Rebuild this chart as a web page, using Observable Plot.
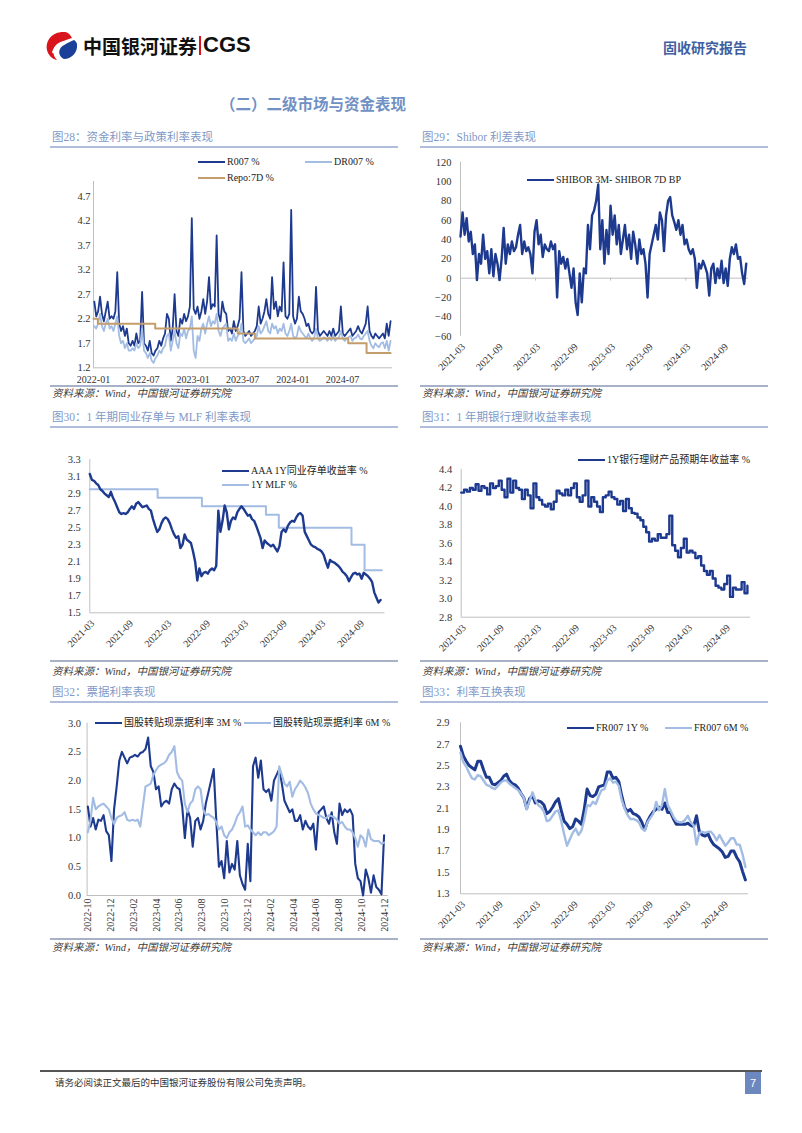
<!DOCTYPE html>
<html><head><meta charset="utf-8">
<script src="https://cdn.jsdelivr.net/npm/d3@7"></script>
<script src="https://cdn.jsdelivr.net/npm/@observablehq/plot@0.6"></script>
<style>
html,body{margin:0;padding:0;background:#fff;}
#page{position:relative;width:802px;height:1133px;overflow:hidden;font-family:"Liberation Serif","Noto Sans CJK SC",serif;}
.t{position:absolute;white-space:nowrap;transform:translateY(-50%);line-height:1;}
.ttl{font-size:11.5px;color:#7f99c6;}
.src{font-size:10.5px;color:#404040;font-style:italic;}
.bar{position:absolute;}
.leg{position:absolute;font-size:10px;color:#222;white-space:nowrap;display:flex;align-items:center;transform:translateY(-50%);line-height:1;}
.leg i{display:inline-block;width:27px;height:0;border-top:2.6px solid;margin-right:2px;}
.ch{position:absolute;}
</style></head>
<body><div id="page"></div>
<script>
// ---------------- DATA ----------------
// 图28 (weekly from 2022-01-04)
const r007Start = "2022-01-04", r007Step = 7;
const r007 = [2.55,2.25,2.35,2.65,2.30,2.15,2.35,2.55,2.20,2.25,
 2.20,2.35,3.15,2.10,1.95,2.05,1.85,2.00,1.70,1.65,
 1.75,1.65,1.90,1.70,1.75,2.75,1.70,1.65,1.55,1.75,
 1.50,1.45,1.55,1.60,1.75,1.65,1.80,1.90,2.30,2.20,
 1.75,2.00,2.70,1.95,1.85,2.20,2.10,2.30,2.15,2.25,
 2.45,4.25,2.40,2.30,2.45,2.20,2.35,2.60,2.30,2.55,
 3.05,2.40,2.50,2.45,3.90,2.30,2.15,2.55,2.35,2.30,
 1.95,2.00,1.90,2.15,1.95,2.05,2.20,3.15,1.95,1.85,
 1.90,1.95,1.85,1.90,1.95,2.05,2.45,2.10,2.20,2.35,
 2.60,2.30,2.20,3.05,2.40,2.55,2.25,2.45,2.35,3.35,
 2.25,2.20,2.30,4.42,2.25,2.10,2.20,2.65,2.35,2.30,
 2.20,2.05,2.10,1.95,1.90,1.95,2.85,1.95,1.85,1.90,
 1.95,1.90,1.85,1.95,1.85,2.00,1.85,1.90,1.95,2.45,
 1.90,1.85,1.90,1.95,2.00,1.85,1.90,1.95,2.05,1.95,
 1.90,2.00,2.10,2.45,1.95,1.85,1.80,1.90,1.85,1.80,
 1.85,1.90,1.80,2.10,1.85,2.15];
const dr007 = [2.05,2.00,2.10,2.30,2.05,1.95,2.10,2.20,2.00,2.05,
 1.95,2.10,2.25,1.85,1.70,1.75,1.60,1.70,1.55,1.55,
 1.60,1.55,1.70,1.60,1.65,2.00,1.55,1.50,1.40,1.50,
 1.35,1.30,1.40,1.45,1.55,1.50,1.60,1.65,1.85,1.90,
 1.55,1.75,1.95,1.70,1.60,1.90,1.85,2.00,1.80,1.95,
 2.00,2.25,1.55,1.40,1.85,1.75,2.00,2.10,1.90,2.10,
 2.25,2.05,2.15,2.10,2.30,1.95,1.85,2.00,2.05,2.10,
 1.75,1.80,1.75,1.90,1.75,1.85,1.90,2.10,1.75,1.70,
 1.75,1.80,1.70,1.75,1.80,1.85,2.05,1.90,1.95,2.05,
 2.15,1.95,1.90,2.10,2.00,2.05,1.90,2.00,1.95,2.10,
 1.90,1.85,1.95,2.10,1.85,1.80,1.85,2.05,1.95,1.90,
 1.85,1.80,1.90,1.80,1.75,1.80,2.00,1.80,1.75,1.78,
 1.82,1.80,1.75,1.82,1.76,1.85,1.75,1.80,1.82,1.95,
 1.80,1.75,1.80,1.82,1.85,1.75,1.80,1.82,1.88,1.80,
 1.78,1.85,1.90,1.95,1.75,1.65,1.60,1.70,1.65,1.62,
 1.70,1.72,1.60,1.75,1.55,1.75];
const repoDates = ["2022-01-01","2022-01-17","2022-08-15","2023-06-13","2023-08-15","2024-07-22","2024-09-27","2024-12-24"];
const repoValues = [2.2,2.1,2.0,1.9,1.8,1.7,1.5,1.5];
const ticks28 = ["2022-01","2022-07","2023-01","2023-07","2024-01","2024-07"];
const yTicks28 = [1.2,1.7,2.2,2.7,3.2,3.7,4.2,4.7];

// 图29 (every 10 days from 2021-03-01)
const shiborStart = "2021-03-01", shiborStep = 10;
const shiborSpread = [43,68,45,62,38,48,25,35,-2,25,
 15,45,20,28,5,30,2,25,15,-2,
 20,52,15,35,25,38,28,32,45,55,
 25,38,28,32,25,5,48,60,35,45,
 22,35,30,28,38,30,35,-20,28,15,
 22,10,20,5,-10,10,-25,-38,5,-25,
 10,5,55,30,65,70,80,97,30,60,
 15,50,25,75,45,65,35,55,25,40,
 55,30,45,20,48,35,15,40,25,30,
 15,-20,25,35,45,55,40,68,60,28,
 65,80,84,65,58,50,60,45,55,35,
 40,30,25,30,20,-10,15,10,18,12,
 5,-18,10,15,-5,10,0,18,-5,10,
 -8,20,32,25,35,20,22,5,-6,15];
const ticksHalfYear = ["2021-03","2021-09","2022-03","2022-09","2023-03","2023-09","2024-03","2024-09"];
const yTicks29 = [-60,-40,-20,0,20,40,60,80,100,120];

// 图30 (every 10 days from 2021-03-01)
const ncdStart = "2021-03-01", ncdStep = 10;
const ncdAAA = [3.13,3.06,3.05,3.02,3.00,2.95,2.93,2.90,2.88,2.86,
 2.92,2.85,2.80,2.74,2.68,2.66,2.67,2.66,2.68,2.72,
 2.75,2.72,2.78,2.80,2.77,2.74,2.75,2.76,2.72,2.70,
 2.60,2.52,2.45,2.48,2.55,2.60,2.62,2.60,2.55,2.48,
 2.42,2.38,2.40,2.26,2.30,2.42,2.36,2.34,2.32,2.22,
 2.10,1.88,2.02,1.93,1.97,1.98,1.96,2.00,2.02,2.00,
 2.05,2.70,2.45,2.58,2.76,2.68,2.48,2.58,2.62,2.60,
 2.68,2.72,2.75,2.72,2.68,2.64,2.65,2.60,2.58,2.52,
 2.45,2.38,2.26,2.35,2.32,2.30,2.28,2.30,2.26,2.22,
 2.28,2.45,2.48,2.45,2.52,2.56,2.58,2.57,2.62,2.66,
 2.67,2.64,2.45,2.40,2.35,2.30,2.28,2.27,2.25,2.24,
 2.22,2.18,2.10,2.03,2.12,2.10,2.09,2.07,2.05,2.02,
 1.98,1.96,1.93,1.87,1.92,1.96,1.97,1.95,1.96,1.90,
 1.97,1.95,1.93,1.90,1.86,1.74,1.68,1.62,1.65];
const mlfDates = ["2021-03-01","2022-01-17","2022-08-15","2023-06-15","2023-08-15","2024-07-25","2024-09-25","2024-12-16"];
const mlfValues = [2.95,2.85,2.75,2.65,2.50,2.30,2.00,2.00];
const yTicks30 = [1.5,1.7,1.9,2.1,2.3,2.5,2.7,2.9,3.1,3.3];

// 图31 (every 14 days from 2021-03-01)
const wmpStart = "2021-03-01", wmpStep = 14;
const wmp1y = [4.15,4.18,4.16,4.20,4.18,4.24,4.17,4.22,4.20,4.13,
 4.25,4.20,4.22,4.28,4.18,4.10,4.30,4.15,4.28,4.20,
 4.18,4.08,4.18,4.12,3.98,4.25,4.10,4.07,4.02,4.00,
 4.03,3.97,4.05,4.17,4.14,4.12,4.18,4.12,4.20,4.25,
 4.10,4.05,4.12,4.28,4.00,4.10,4.05,4.00,3.94,4.10,
 4.12,4.16,4.10,4.08,4.02,4.06,3.95,4.08,3.98,3.93,
 3.92,3.88,3.85,3.78,3.72,3.62,3.65,3.63,3.70,3.66,
 3.66,3.70,3.90,3.58,3.52,3.45,3.55,3.65,3.50,3.52,
 3.50,3.44,3.46,3.36,3.30,3.26,3.30,3.22,3.14,3.12,
 3.10,3.16,3.25,3.02,3.12,3.10,3.10,3.18,3.06,3.14];
const yTicks31 = [2.8,3.0,3.2,3.4,3.6,3.8,4.0,4.2,4.4];

// 图32 (weekly from 2022-09-30)
const billStart = "2022-09-30", billStep = 7;
const bill3m = [1.55,1.20,1.35,1.15,1.32,1.30,1.40,1.12,1.05,0.60,
 1.50,1.90,2.35,2.50,2.40,2.30,2.40,2.42,2.45,2.42,
 2.48,2.50,2.55,2.75,2.25,2.15,1.85,1.90,1.55,1.62,
 1.65,1.60,1.85,1.95,1.88,1.85,1.55,1.00,1.50,1.35,
 0.85,1.30,1.35,1.15,1.30,1.60,1.80,2.00,2.20,1.30,
 0.50,0.60,0.30,0.95,0.40,0.55,0.45,0.95,0.35,0.20,
 0.10,0.90,0.25,2.25,2.40,2.05,2.35,1.85,1.80,1.85,
 1.65,2.00,2.10,2.20,1.95,1.65,1.55,1.45,1.50,1.30,
 1.30,1.40,1.15,1.30,1.20,1.15,1.25,0.80,1.45,1.50,
 1.55,1.35,1.25,1.45,1.10,0.90,1.60,1.40,1.50,1.45,
 1.50,1.40,0.55,0.30,0.25,0.00,0.45,0.30,0.05,0.35,
 0.15,0.10,0.02,1.05];
const bill6m = [1.10,1.30,1.70,1.50,1.55,1.58,1.60,1.55,1.50,1.35,
 1.25,1.35,1.38,1.40,1.45,1.32,1.30,1.32,1.30,1.32,
 1.20,1.55,1.90,1.92,1.95,2.10,2.18,2.25,2.28,2.30,
 2.35,2.45,2.50,2.60,2.15,2.05,2.00,1.60,1.45,1.60,
 1.65,1.85,1.90,1.85,1.50,1.40,1.42,1.38,1.35,1.28,
 1.15,1.20,1.05,1.00,1.10,1.15,1.25,1.38,1.45,1.55,
 1.20,1.22,1.15,1.10,1.05,1.10,1.05,1.10,1.10,1.05,
 1.08,1.12,1.20,2.25,2.10,1.95,1.90,1.98,1.72,1.85,
 1.92,2.00,1.95,1.88,1.78,1.60,1.50,1.43,1.40,1.38,
 1.35,1.35,1.40,1.38,1.36,1.32,1.25,1.28,1.20,1.15,
 1.15,1.10,1.00,0.85,1.05,1.00,0.85,1.15,0.98,0.95,
 0.95,0.95,0.90,0.92];
const ticks32 = ["2022-10","2022-12","2023-02","2023-04","2023-06","2023-08","2023-10","2023-12","2024-02","2024-04","2024-06","2024-08","2024-10","2024-12"];
const yTicks32 = [0,0.5,1.0,1.5,2.0,2.5,3.0];

// 图33 (every 14 days from 2021-03-01)
const irsStart = "2021-03-01", irsStep = 14;
const fr007_1y = [2.68,2.59,2.54,2.50,2.48,2.46,2.54,2.54,2.46,2.39,
 2.39,2.33,2.32,2.34,2.36,2.40,2.42,2.36,2.33,2.32,
 2.29,2.24,2.20,2.10,2.19,2.22,2.15,2.17,2.16,2.13,
 2.05,2.07,2.11,2.16,2.19,2.08,1.98,1.95,1.91,1.93,
 2.00,1.98,1.95,2.09,2.28,2.22,2.21,2.23,2.30,2.31,
 2.32,2.44,2.44,2.38,2.39,2.35,2.22,2.11,2.07,2.09,
 2.05,2.04,2.02,1.97,1.90,1.98,2.03,2.07,2.09,2.11,
 2.09,2.15,2.06,2.06,2.00,1.95,1.95,1.95,1.95,1.96,
 1.94,1.93,2.03,1.88,1.85,1.84,1.86,1.80,1.76,1.74,
 1.72,1.69,1.64,1.65,1.70,1.70,1.64,1.60,1.51,1.43];
const fr007_6m = [2.62,2.53,2.49,2.43,2.38,2.37,2.41,2.40,2.36,2.32,
 2.31,2.29,2.28,2.31,2.34,2.36,2.36,2.33,2.31,2.29,
 2.27,2.24,2.20,2.09,2.17,2.25,2.18,2.13,2.11,2.07,
 1.98,1.99,2.03,2.07,2.08,1.98,1.86,1.75,1.81,1.87,
 1.91,1.85,1.89,1.99,2.13,2.12,2.16,2.14,2.21,2.27,
 2.28,2.36,2.38,2.34,2.35,2.31,2.18,2.10,2.04,2.00,
 2.00,1.99,1.97,1.91,1.89,1.97,2.01,2.05,2.16,2.08,
 2.13,2.28,2.13,2.08,2.02,1.98,1.97,1.97,1.99,2.03,
 1.97,1.94,1.76,1.87,1.88,1.87,1.88,1.88,1.85,1.80,
 1.85,1.80,1.75,1.78,1.82,1.82,1.76,1.76,1.67,1.55];
const yTicks33 = [1.3,1.5,1.7,1.9,2.1,2.3,2.5,2.7,2.9];

// ---------------- HELPERS ----------------
const NAVY = "#1d3a8f", LIGHT = "#a3bce3", TAN = "#c39d6b";
const D = s => new Date(s + "T00:00:00Z");
const M = s => D(s + "-01");
const seq = (start, step, vals) => vals.map((v, i) => ({date: d3.utcDay.offset(D(start), i * step), value: v}));
const pairs = (dates, vals) => dates.map((s, i) => ({date: D(s), value: vals[i]}));
const page = document.getElementById("page");

function el(tag, cls, css, html) {
  const e = document.createElement(tag);
  if (cls) e.className = cls;
  Object.assign(e.style, css || {});
  if (html != null) e.innerHTML = html;
  page.appendChild(e);
  return e;
}
function text(str, x, y, cls, css) { return el("div", "t " + cls, Object.assign({left: x + "px", top: y + "px"}, css || {}), str); }
function rect(x, y, w, h, color) { return el("div", "bar", {left: x + "px", top: y + "px", width: w + "px", height: h + "px", background: color}); }
function legend(x, y, color, label) {
  return el("div", "leg", {left: x + "px", top: y + "px"}, `<i style="border-color:${color}"></i><span>${label}</span>`);
}

function chart(c) {
  const grey = "#bfbfbf";
  const marks = [
    Plot.ruleY([{y: c.baseY, x1: c.xDomain[0], x2: c.xDomain[1]}], {y: "y", x1: "x1", x2: "x2", stroke: grey, strokeWidth: 1}),
    Plot.ruleX([{x: c.xDomain[0], y1: c.yDomain[0], y2: c.axisTop}], {x: "x", y1: "y1", y2: "y2", stroke: grey, strokeWidth: 1}),
    Plot.axisY({ticks: c.yTicks, tickFormat: c.yFmt, tickSize: 0, tickPadding: c.yPad, label: null, fontSize: 10.5}),
    Plot.axisX({ticks: c.xTicks.map(M), tickFormat: d3.utcFormat("%Y-%m"), tickSize: 0, tickPadding: c.xPad,
      tickRotate: c.xRotate || 0, label: null, fontSize: 10, dx: c.xDx || 0, dy: c.xDy || 0,
      frameAnchor: "bottom", anchor: "bottom"})
  ];
  if (c.zeroTicks) marks.push(Plot.ruleX(c.xTicks.map(M), {y1: 0, y2: c.zeroTicks, stroke: grey}));
  for (const s of c.lines) marks.push(Plot.line(s.data, {x: "date", y: "value", stroke: s.color, strokeWidth: s.w, curve: s.curve || "linear", strokeLinejoin: "round"}));
  const svg = Plot.plot({
    width: c.width, height: c.height,
    marginLeft: c.mL, marginRight: c.mR, marginTop: c.mT, marginBottom: c.mB,
    x: {type: "utc", domain: c.xDomain, axis: null},
    y: {domain: c.yDomain, axis: null},
    style: {fontFamily: '"Liberation Serif","Noto Sans CJK SC",serif', fontSize: "10.5px", color: "#333", background: "transparent", overflow: "visible"},
    marks
  });
  const w = el("div", "ch", {left: c.left + "px", top: c.top + "px"});
  w.appendChild(svg);
}

// ---------------- PAGE CHROME ----------------
el("div", "", {position: "absolute", left: "45px", top: "31px"},
 `<svg width="34" height="30" viewBox="0 0 34 30">
   <path d="M20 1 C 8 0, 0 9, 2 19 C 3 24, 7 28, 12 29 C 7 24, 7 17, 12 13 C 16 10, 22 9, 27 7 C 25 3, 23 1.5, 20 1 Z" fill="#d9141c"/>
   <path d="M29 9 C 23 12, 17 14, 15 18 C 13 22, 15 26, 19 28 C 27 28, 33 21, 32 13 C 31.5 11, 30.5 10, 29 9 Z" fill="#1b4097"/>
   <path d="M8 22 C 9 16, 15 12, 24 10" stroke="#fff" stroke-width="2" fill="none"/>
 </svg>`);
text("中国银河证券", 83, 45, "", {fontFamily: '"Noto Sans CJK SC",sans-serif', fontWeight: "700", fontSize: "19px", color: "#111"});
rect(199, 36, 2, 19, "#d9141c");
text("CGS", 203, 45, "", {fontFamily: '"Liberation Sans",Arial,sans-serif', fontWeight: "700", fontSize: "22px", color: "#111"});
text("固收研究报告", 663, 47, "", {fontFamily: '"Noto Sans CJK SC",sans-serif', fontWeight: "700", fontSize: "14px", color: "#3f5fa0"});
text("（二）二级市场与资金表现", 220, 104, "", {fontFamily: '"Noto Sans CJK SC",sans-serif', fontWeight: "700", fontSize: "15.5px", color: "#7190c4"});

const titles = [
  ["图28：资金利率与政策利率表现", 52, 137.7],
  ["图29：Shibor 利差表现", 422, 137.7],
  ["图30：1 年期同业存单与 MLF 利率表现", 52, 417.7],
  ["图31：1 年期银行理财收益率表现", 422, 417.7],
  ["图32：票据利率表现", 52, 692.7],
  ["图33：利率互换表现", 422, 692.7]
];
for (const [s, x, y] of titles) text(s, x, y, "ttl");
for (const y of [146, 426, 701]) { rect(50, y, 348, 2, "#b0bedb"); rect(420, y, 348, 2, "#b0bedb"); }
for (const y of [385, 660, 938]) { rect(50, y, 348, 2, "#a7b2c9"); rect(420, y, 348, 2, "#a7b2c9"); }
for (const y of [394, 671.7, 948]) { text("资料来源：Wind，中国银河证券研究院", 52, y, "src"); text("资料来源：Wind，中国银河证券研究院", 422, y, "src"); }

rect(40, 1070, 722, 1.5, "#555");
text("请务必阅读正文最后的中国银河证券股份有限公司免责声明。", 55, 1083, "", {fontFamily: '"Noto Sans CJK SC",sans-serif', fontSize: "9.5px", color: "#333"});
el("div", "", {position: "absolute", left: "745px", top: "1072px", width: "16px", height: "22px", background: "#6d87bf", color: "#fff", fontSize: "11px", textAlign: "center", lineHeight: "22px", fontFamily: '"Liberation Sans",sans-serif'}, "7");

// ---------------- CHARTS ----------------
const f1 = d3.format(".1f"), f0 = d3.format("d");

chart({left: 50, top: 150, width: 345, height: 240, mL: 43, mR: 3, mT: 45.7, mB: 22.7,
  xDomain: [D("2022-01-01"), D("2024-12-31")], yDomain: [1.2, 4.7], axisTop: 5.0, baseY: 1.2,
  yTicks: yTicks28, yFmt: f1, yPad: 3, xTicks: ticks28, xPad: 8,
  lines: [
    {data: seq(r007Start, r007Step, r007), color: NAVY, w: 1.8},
    {data: seq(r007Start, r007Step, dr007), color: LIGHT, w: 1.8},
    {data: pairs(repoDates, repoValues), color: TAN, w: 2, curve: "step-after"}
  ]});
legend(198, 161.7, NAVY, "R007 %");
legend(305, 161.7, LIGHT, "DR007 %");
legend(198, 177.7, TAN, "Repo:7D %");

chart({left: 420, top: 150, width: 345, height: 235, mL: 40, mR: 17, mT: 11.7, mB: 49.3,
  xDomain: [D("2021-03-01"), D("2024-12-31")], yDomain: [-60, 120], axisTop: 120, baseY: 0,
  yTicks: yTicks29, yFmt: f0, yPad: 9, xTicks: ticksHalfYear, xPad: 9, xRotate: -45, xDx: 3, zeroTicks: -3,
  lines: [{data: seq(shiborStart, shiborStep, shiborSpread), color: NAVY, w: 2.4}]});
legend(527, 180, NAVY, "SHIBOR 3M- SHIBOR 7D BP");

chart({left: 50, top: 430, width: 345, height: 230, mL: 39.3, mR: 10.5, mT: 29, mB: 47.7,
  xDomain: [D("2021-03-01"), D("2024-12-31")], yDomain: [1.5, 3.3], axisTop: 3.3, baseY: 1.5,
  yTicks: yTicks30, yFmt: f1, yPad: 9, xTicks: ticksHalfYear, xPad: 9, xRotate: -45, xDx: 3,
  lines: [
    {data: pairs(mlfDates, mlfValues), color: LIGHT, w: 2, curve: "step-after"},
    {data: seq(ncdStart, ncdStep, ncdAAA), color: NAVY, w: 2.4}
  ]});
legend(222, 470.7, NAVY, "AAA 1Y同业存单收益率 %");
legend(222, 485, LIGHT, "1Y MLF %");

chart({left: 420, top: 430, width: 345, height: 230, mL: 40.7, mR: 15, mT: 39, mB: 43.3,
  xDomain: [D("2021-03-01"), D("2024-12-31")], yDomain: [2.8, 4.4], axisTop: 4.4, baseY: 2.8,
  yTicks: yTicks31, yFmt: f1, yPad: 9, xTicks: ticksHalfYear, xPad: 9, xRotate: -45, xDx: 3,
  lines: [{data: seq(wmpStart, wmpStep, wmp1y), color: NAVY, w: 2.4, curve: "step-after"}]});
legend(578, 460, NAVY, "1Y银行理财产品预期年收益率 %");

chart({left: 50, top: 705, width: 345, height: 233, mL: 36.6, mR: 7.3, mT: 17.7, mB: 43,
  xDomain: [D("2022-09-28"), D("2024-12-10")], yDomain: [0, 3], axisTop: 3, baseY: 0,
  yTicks: yTicks32, yFmt: f1, yPad: 6, xTicks: ticks32, xPad: 3, xRotate: -90,
  lines: [
    {data: seq(billStart, billStep, bill3m), color: NAVY, w: 2.1},
    {data: seq(billStart, billStep, bill6m), color: LIGHT, w: 2.1}
  ]});
legend(95, 723, NAVY, "国股转贴现票据利率 3M %");
legend(244, 723, LIGHT, "国股转贴现票据利率 6M %");

chart({left: 420, top: 705, width: 345, height: 233, mL: 40, mR: 17, mT: 17.3, mB: 44.7,
  xDomain: [D("2021-03-01"), D("2024-12-31")], yDomain: [1.3, 2.9], axisTop: 2.9, baseY: 1.3,
  yTicks: yTicks33, yFmt: f1, yPad: 11, xTicks: ticksHalfYear, xPad: 9, xRotate: -45, xDx: 3,
  lines: [
    {data: seq(irsStart, irsStep, fr007_1y), color: NAVY, w: 3},
    {data: seq(irsStart, irsStep, fr007_6m), color: LIGHT, w: 2.4}
  ]});
legend(567, 727.7, NAVY, "FR007 1Y %");
legend(665, 727.7, LIGHT, "FR007 6M %");
</script>
</body></html>
